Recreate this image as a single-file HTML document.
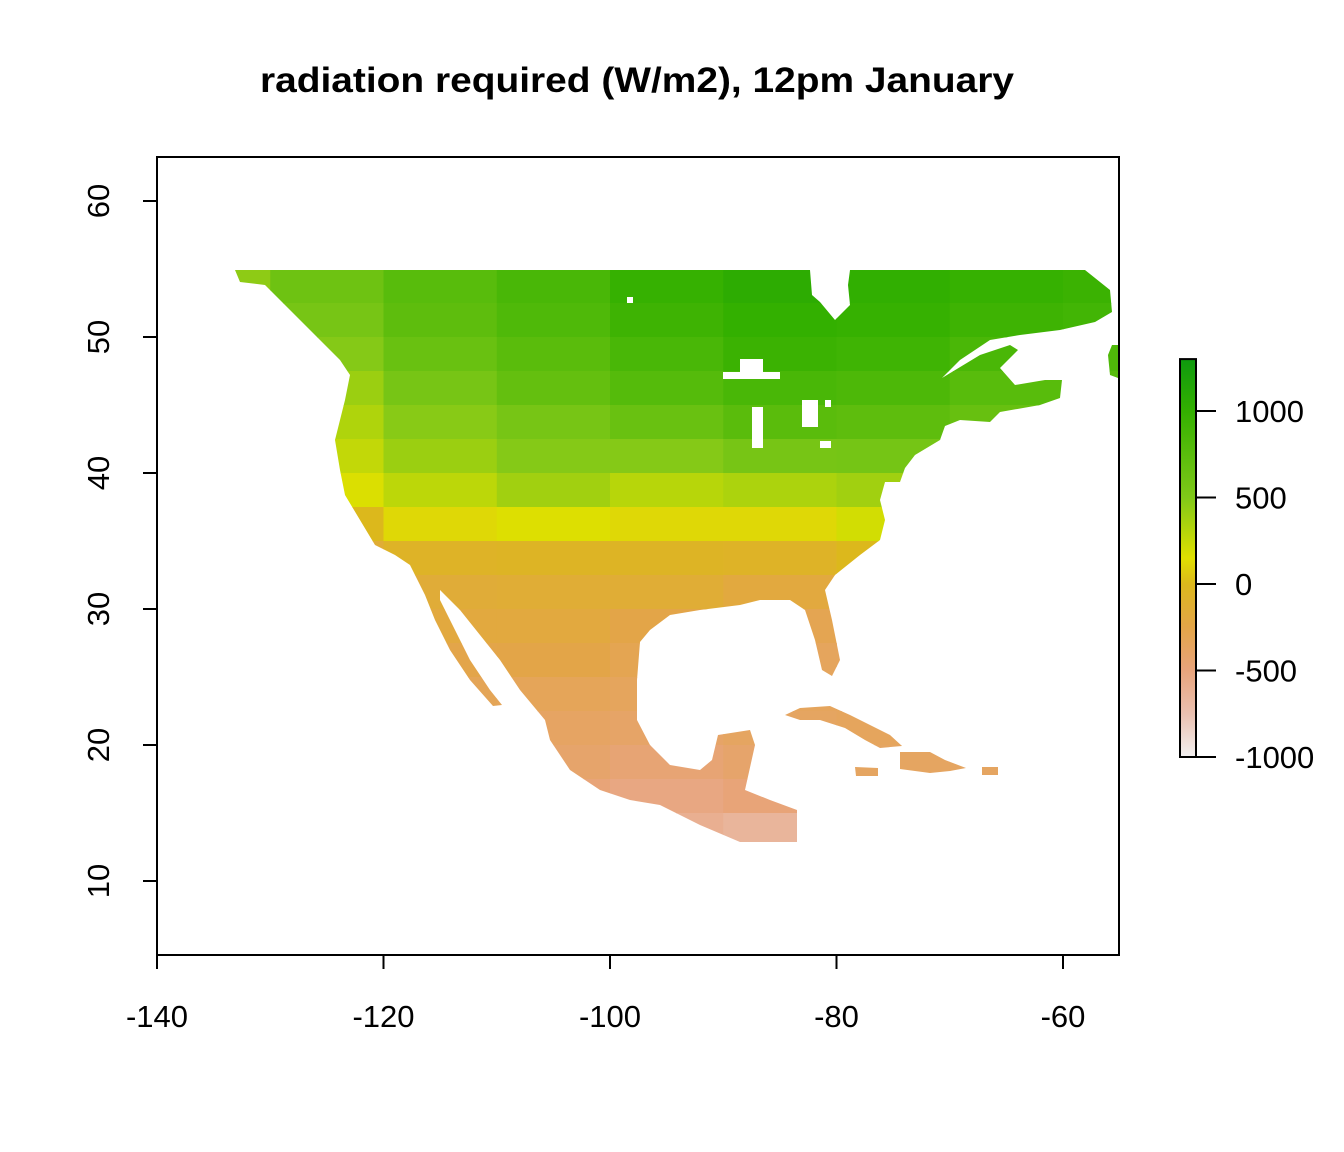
<!DOCTYPE html>
<html><head><meta charset="utf-8"><style>
body{margin:0;background:#fff}
svg{display:block;font-family:"Liberation Sans",Arial,sans-serif}
</style></head><body>
<svg id="chart" width="1344" height="1152" viewBox="0 0 1344 1152">
<text x="637" y="92" text-anchor="middle" font-size="35" font-weight="bold" textLength="754" lengthAdjust="spacingAndGlyphs">radiation required  (W/m2), 12pm January</text>
<defs>
<clipPath id="land">
<polygon points="235,270 810,270 812,295 820,302 835,320 850,305 848,285 850,270 1085,270 1110,290 1112,312 1095,322 1060,330 1020,335 990,340 960,360 942,378 980,355 1010,345 1018,350 1000,368 1015,385 1045,380 1062,380 1060,398 1040,405 1000,412 990,422 960,420 945,426 940,440 915,455 905,468 900,482 885,482 880,500 885,520 880,540 860,555 835,575 825,590 832,620 840,660 832,676 822,670 815,640 805,610 790,600 760,600 740,605 700,610 670,615 650,630 640,642 637,680 637,720 650,745 670,765 700,770 712,760 718,735 750,730 755,745 745,790 770,800 797,810 797,842 740,842 700,825 660,805 630,800 600,790 570,770 550,740 545,720 520,690 500,660 480,635 460,610 440,590 440,600 455,630 470,660 490,690 502,705 493,706 470,680 450,650 435,620 425,595 410,565 395,555 375,545 360,520 345,495 340,470 335,440 345,400 350,375 340,360 320,340 300,320 280,300 265,285 240,282"/>
<polygon points="1112,345 1118,345 1118,378 1110,375 1108,355"/>
<polygon points="785,715 800,708 830,706 850,715 870,725 890,735 902,746 880,748 865,740 845,728 820,720 800,720"/>
<polygon points="900,752 930,752 945,760 966,768 950,771 930,773 915,771 900,769"/>
<polygon points="855,767 878,768 878,776 856,776"/>
<polygon points="982,767 998,767 998,775 982,775"/>
</clipPath>
</defs>
<g id="cells" clip-path="url(#land)"></g>
<g fill="#fff">
<rect x="740" y="359" width="23" height="19"/><rect x="723" y="372" width="57" height="7"/>
<rect x="752" y="407" width="11" height="41"/><rect x="802" y="400" width="16" height="27"/>
<rect x="825" y="400" width="6" height="7"/><rect x="820" y="441" width="11" height="7"/>
<rect x="627" y="297" width="6" height="6"/>
</g>
<rect x="157" y="157" width="962" height="798" fill="none" stroke="#000" stroke-width="2"/>
<g id="axes"></g>
<g id="legend"></g>
</svg>
<script>
const xTicks=[-140,-120,-100,-80,-60];
const yTicks=[10,20,30,40,50,60];
const legendTicks=[-1000,-500,0,500,1000];
const cellLons=[-135,-125,-115,-105,-95,-85,-75,-65,-55];
const cellLats=[53.75,51.25,48.75,46.25,43.75,41.25,38.75,36.25,33.75,31.25,28.75,26.25,23.75,21.25,18.75,16.25,13.75];
const values=[
[450,620,760,860,980,1050,1020,980,950],
[400,560,720,820,930,1000,980,930,900],
[350,480,650,750,860,950,920,850,820],
[300,400,560,680,780,860,830,760,760],
[250,330,470,560,650,750,720,660,660],
[200,260,400,480,480,560,570,540,540],
[120,170,280,380,300,340,380,400,400],
[30,0,120,160,120,120,200,220,220],
[-100,-150,-60,-50,-50,-60,0,0,0],
[-200,-200,-160,-150,-150,-200,-200,-200,-200],
[-250,-250,-200,-200,-250,-300,-300,-300,-300],
[-300,-300,-260,-250,-300,-350,-350,-350,-350],
[-350,-350,-320,-330,-350,-350,-350,-350,-350],
[-400,-400,-370,-380,-400,-370,-350,-350,-350],
[-400,-400,-420,-420,-460,-420,-370,-370,-370],
[-500,-500,-500,-480,-530,-480,-400,-400,-400],
[-600,-600,-600,-600,-600,-650,-500,-500,-500]];
const rampVals=[-1000,-750,-500,-250,0,150,500,1000,1300];
const rampCols=['#f2f0f0','#eac0b0','#e8a47c','#e3a548','#dcb81c','#e0e000','#80c818','#33b000','#0e9a0e'];
const NS='http://www.w3.org/2000/svg';
const xs=v=>157+(v+140)*(906/80);
const ys=v=>201+(60-v)*13.6;
const ls=v=>584-v*(86.5/500);
function hex(c){return [1,3,5].map(i=>parseInt(c.substr(i,2),16));}
function color(v){
 if(v<=rampVals[0])return rampCols[0];
 for(let i=1;i<rampVals.length;i++){if(v<=rampVals[i]){const t=(v-rampVals[i-1])/(rampVals[i]-rampVals[i-1]);const a=hex(rampCols[i-1]),b=hex(rampCols[i]);return 'rgb('+a.map((x,k)=>Math.round(x+(b[k]-x)*t)).join(',')+')';}}
 return rampCols[rampCols.length-1];
}
function mk(tag,attrs,parent){const e=document.createElementNS(NS,tag);for(const k in attrs)e.setAttribute(k,attrs[k]);parent.appendChild(e);return e;}
const cells=document.getElementById('cells');
values.forEach((row,r)=>row.forEach((v,c)=>{
 const x0=xs(cellLons[c]-5),x1=xs(cellLons[c]+5),y0=ys(cellLats[r]+1.25),y1=ys(cellLats[r]-1.25);
 const e=mk('rect',{x:x0,y:y0,width:x1-x0+0.5,height:y1-y0+0.5,fill:color(v)},cells);
 
 
}));
const axes=document.getElementById('axes');
xTicks.forEach(t=>{
 const l=mk('line',{x1:xs(t),x2:xs(t),y1:955,y2:969,stroke:'#000','stroke-width':2},axes);
 
 
 const tx=mk('text',{x:xs(t),y:1027,'text-anchor':'middle','font-size':31},axes);tx.textContent=t;
 
 
});
mk('line',{x1:xs(-140),x2:xs(-60),y1:955,y2:955,stroke:'#000','stroke-width':2},axes);
yTicks.forEach(t=>{
 const l=mk('line',{x1:143,x2:157,y1:ys(t),y2:ys(t),stroke:'#000','stroke-width':2},axes);
 
 
 const tx=mk('text',{x:109,y:ys(t),'text-anchor':'middle','font-size':31,transform:'rotate(-90 109 '+ys(t)+')'},axes);tx.textContent=t;
 
 
});
const lg=document.getElementById('legend');
const g=mk('linearGradient',{id:'lgrad',x1:0,y1:1,x2:0,y2:0},mk('defs',{},lg));
const lmin=-1000,lmax=1300;
rampVals.forEach((v,i)=>{mk('stop',{offset:(v-lmin)/(lmax-lmin),'stop-color':rampCols[i]},g);});
const bar=mk('rect',{x:1180,y:ls(lmax),width:16,height:ls(lmin)-ls(lmax),fill:'url(#lgrad)',stroke:'#000','stroke-width':2},lg);


legendTicks.forEach(t=>{
 const l=mk('line',{x1:1196,x2:1216,y1:ls(t),y2:ls(t),stroke:'#000','stroke-width':2},lg);
 
 
 const tx=mk('text',{x:1235,y:ls(t)+11,'font-size':31},lg);tx.textContent=t;
 
 
});
</script>
</body></html>
